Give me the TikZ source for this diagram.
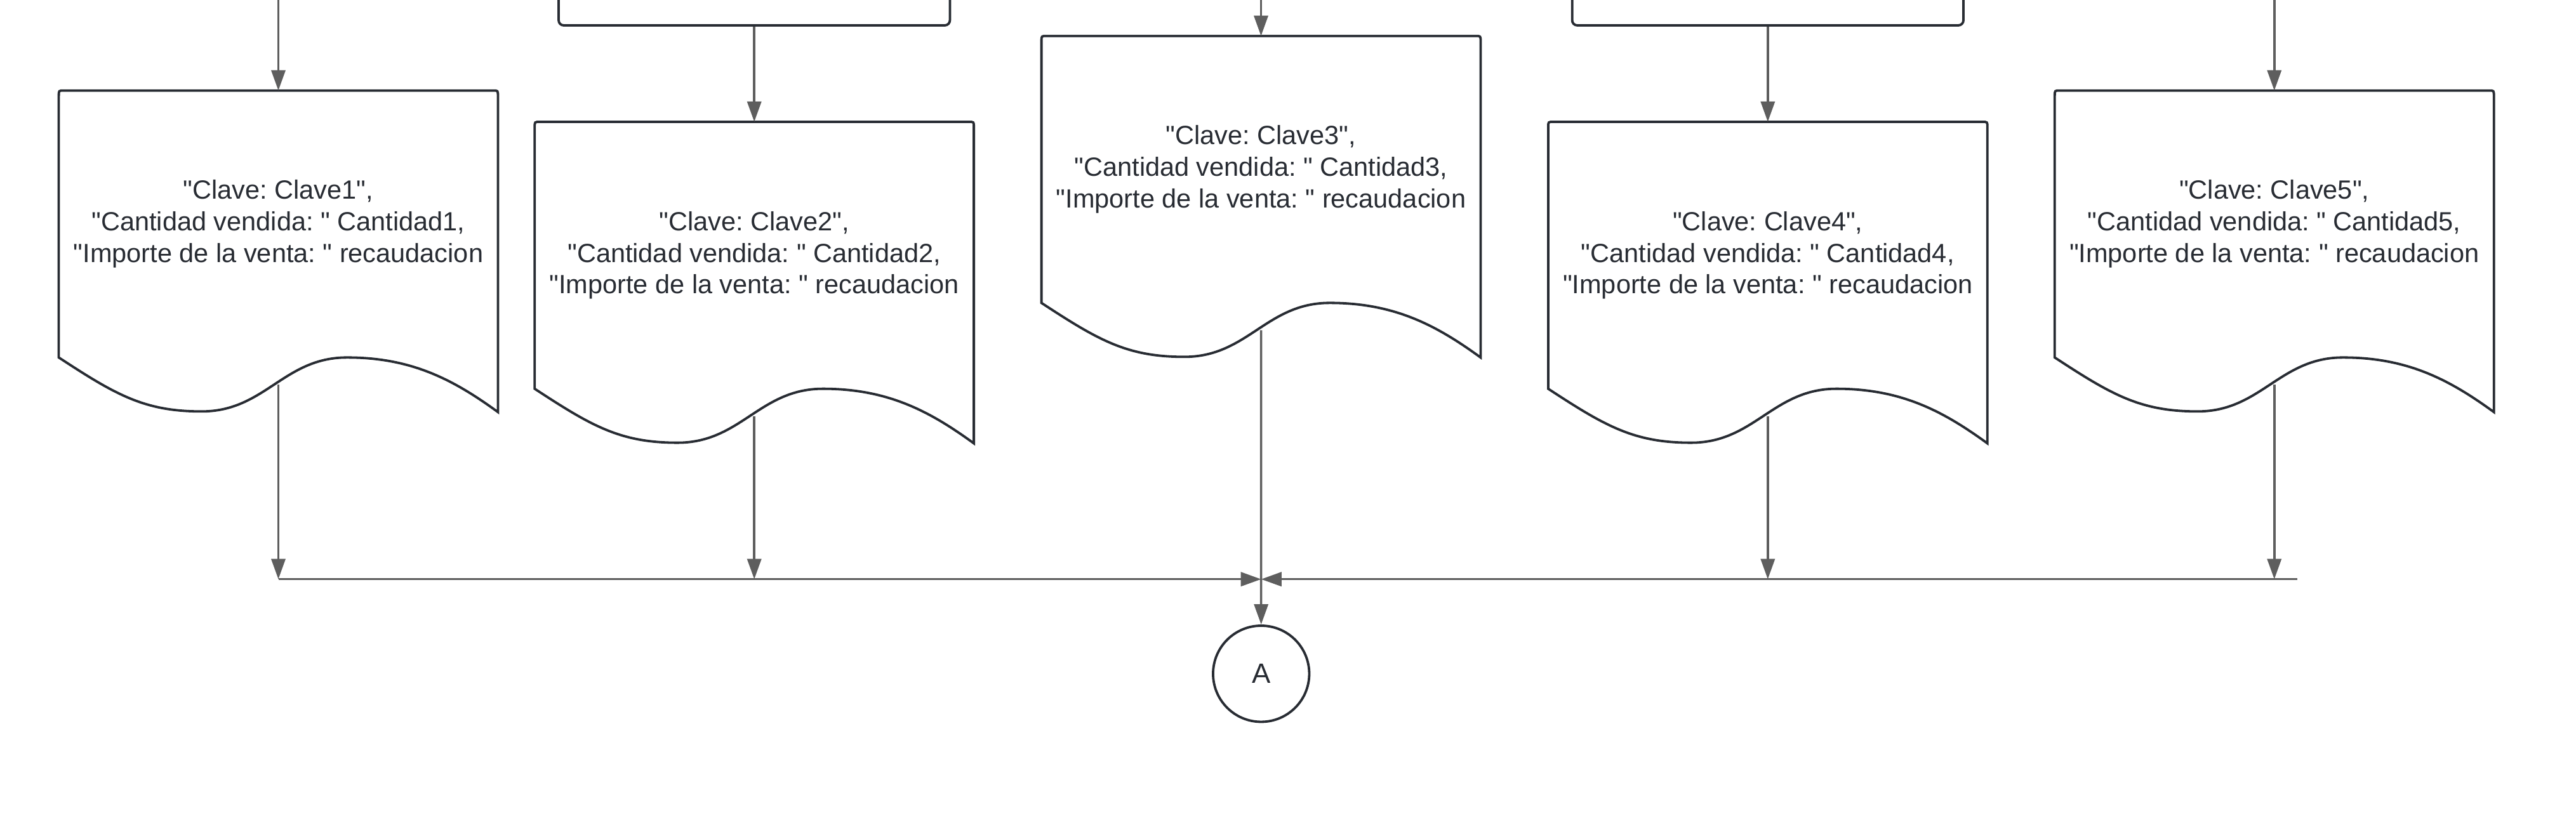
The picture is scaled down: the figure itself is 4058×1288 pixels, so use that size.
\documentclass[tikz,border=0pt]{standalone}
\usepackage{fontspec}
\setmainfont{Liberation Sans}
\usetikzlibrary{positioning, calc, arrows.meta}

\definecolor{linegray}{HTML}{5E5E5E}
\definecolor{shapeink}{HTML}{282C33}

\newcommand{\dq}{\textquotedbl}
\newcommand{\docshape}[1]{%
  \draw[shape line] (#1.south west) -- ($(#1.north west)+(0,8)$)
    .. controls (#1.north west) .. ($(#1.north west)+(8,0)$)
    -- ($(#1.north east)+(-8,0)$)
    .. controls (#1.north east) .. ($(#1.north east)+(0,8)$)
    -- ($(#1.south east)+(0,86)$)
    .. controls ($(#1.south east)+(-70,35)$) and ($(#1.south east)+(-136,0)$) .. ($(#1.south west)+(454,0)$)
    .. controls ($(#1.south west)+(354,0)$) and ($(#1.south west)+(325,85)$) .. ($(#1.south west)+(225,85)$)
    .. controls ($(#1.south west)+(135,85)$) and ($(#1.south west)+(90,59)$) .. cycle;
  \coordinate (#1-out) at ($(#1.south)+(0,43)$);
}

\begin{document}
\frenchspacing
\begin{tikzpicture}[x=0.01cm, y=-0.01cm,
                    shape line/.style={draw=shapeink, line width=0.038cm},
                    docnode/.style={minimum width=6.9cm, minimum height=4.19cm, inner sep=0pt,
                                    align=center, text=shapeink, font=\fontsize{11.8pt}{14.2pt}\selectfont},
                    prevbox/.style={shape line, rounded corners=0.08cm, minimum width=6.16cm, minimum height=1.6cm},
                    endpoint/.style={circle, shape line, minimum size=1.514cm, inner sep=0pt,
                                     text=shapeink, font=\fontsize{12.5pt}{13pt}\selectfont},
                    flow/.style={draw=linegray, line width=0.035cm, -{Triangle[length=0.32cm, width=0.22cm]}}]
  \useasboundingbox (0,0) rectangle (4058,1288);
  \clip (0,0) rectangle (4058,1288);

  \node[docnode] (d1) at (438.5,353) {\dq Clave: Clave1\dq,\\\dq Cantidad vendida: \dq{} Cantidad1,\\\dq Importe de la venta: \dq{} recaudacion};
  \node[docnode] (d2) at (1188.2,402.3) {\dq Clave: Clave2\dq,\\\dq Cantidad vendida: \dq{} Cantidad2,\\\dq Importe de la venta: \dq{} recaudacion};
  \node[docnode] (d3) at (1986.5,267) {\dq Clave: Clave3\dq,\\\dq Cantidad vendida: \dq{} Cantidad3,\\\dq Importe de la venta: \dq{} recaudacion};
  \node[docnode] (d4) at (2784.8,402.3) {\dq Clave: Clave4\dq,\\\dq Cantidad vendida: \dq{} Cantidad4,\\\dq Importe de la venta: \dq{} recaudacion};
  \node[docnode] (d5) at (3582.7,353) {\dq Clave: Clave5\dq,\\\dq Cantidad vendida: \dq{} Cantidad5,\\\dq Importe de la venta: \dq{} recaudacion};
  \foreach \i in {1,...,5} {\docshape{d\i}}

  \node[prevbox, above=1.5cm of d2] (prev2) {};
  \node[prevbox, above=1.5cm of d4] (prev4) {};

  \node[endpoint] (A) at (1986.7,1061.7) {A};

  \coordinate (top1) at (438.5,-5);
  \coordinate (top3) at (1986.5,-5);
  \coordinate (top5) at (3582.7,-5);
  \coordinate (busL) at (438.5,912.7);
  \coordinate (busC) at (1986.7,912.7);
  \coordinate (busR) at (3619,912.7);

  \draw[flow] (top1) -- (d1.north);
  \draw[flow] (prev2) -- (d2.north);
  \draw[flow] (top3) -- (d3.north);
  \draw[flow] (prev4) -- (d4.north);
  \draw[flow] (top5) -- (d5.north);

  \foreach \i in {1,2,4,5} {\draw[flow] (d\i-out) -- (d\i-out |- busC);}
  \draw[flow] (busL) -- (busC);
  \draw[flow] (busR) -- (busC);
  \draw[flow] (d3-out) -- (A);
\end{tikzpicture}
\end{document}
